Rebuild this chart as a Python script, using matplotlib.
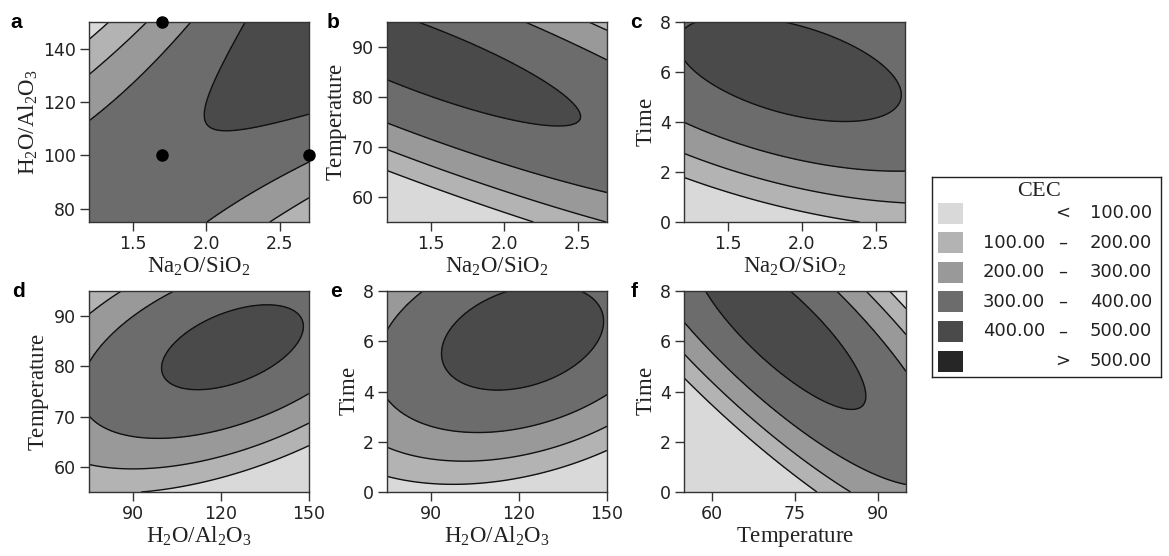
import numpy as np
import matplotlib
matplotlib.use('Agg')
import matplotlib.pyplot as plt
from matplotlib.patches import Rectangle

plt.rcParams['font.family'] = ['DejaVu Sans']
plt.rcParams['mathtext.fontset'] = 'custom'
plt.rcParams['mathtext.rm'] = 'Liberation Serif'
plt.rcParams['mathtext.it'] = 'Liberation Serif:italic'

W, H = 1169, 556

LEVELS = [100, 200, 300, 400, 500]
FILLS = ['#d9d9d9', '#b3b3b3', '#999999', '#6c6c6c', '#4a4a4a', '#262626']

LEGEND_LEFT = ['', '100.00', '200.00', '300.00', '400.00', '']
LEGEND_SIGN = ['<', '\u2013', '\u2013', '\u2013', '\u2013', '>']
LEGEND_RIGHT = ['100.00', '200.00', '300.00', '400.00', '500.00', '500.00']

# contour crossings: (x, y, CEC level)
a_pts = [(1.352, 150, 100), (1.2, 142.6, 100),
         (1.545, 150, 200), (1.364, 139.5, 200), (1.2, 130.1, 200),
         (1.932, 150, 300), (1.568, 128.2, 300), (1.2, 113.8, 300),
         (2.261, 150, 400), (2.068, 129.5, 400), (1.989, 114.4, 400),
         (2.068, 109.4, 400), (2.318, 110.1, 400), (2.7, 115.7, 400),
         (2.0, 75, 300), (2.409, 88.1, 300), (2.7, 96.9, 300),
         (2.432, 75, 200), (2.59, 81.9, 200), (2.7, 83.4, 200)]
b_pts = [(1.355, 95, 400), (1.627, 92.9, 400), (1.968, 88.9, 400), (2.264, 84.3, 400),
         (2.468, 78.9, 400), (2.491, 76.3, 400), (2.423, 74.0, 400), (2.195, 74.3, 400),
         (1.855, 76.6, 400), (1.514, 80.3, 400), (1.2, 83.9, 400),
         (2.173, 95, 300), (2.423, 91.6, 300), (2.7, 86.9, 300),
         (2.536, 95, 200), (2.7, 92.9, 200),
         (1.2, 74.3, 300), (1.514, 71.6, 300), (1.855, 69.0, 300), (2.195, 65.7, 300), (2.7, 61.0, 300),
         (1.2, 69.0, 200), (1.514, 66.3, 200), (1.855, 63.0, 200), (2.195, 59.7, 200), (2.627, 55, 200),
         (1.2, 64.5, 100), (1.514, 62.4, 100), (1.855, 59.0, 100), (2.127, 55, 100)]
c_pts = [(1.286, 8, 400), (1.2, 7.75, 400), (1.852, 8, 400), (2.191, 7.48, 400),
         (2.462, 6.68, 400), (2.643, 5.21, 400), (2.621, 4.55, 400), (2.417, 4.01, 400),
         (2.146, 3.88, 400), (1.852, 4.28, 400), (1.512, 5.35, 400), (1.2, 6.35, 400),
         (1.2, 3.88, 300), (1.512, 3.35, 300), (1.852, 2.81, 300), (2.191, 2.35, 300), (2.7, 2.04, 300),
         (1.2, 2.75, 200), (1.512, 2.08, 200), (1.852, 1.61, 200), (2.191, 1.21, 200), (2.7, 0.75, 200),
         (1.2, 1.81, 100), (1.512, 1.08, 100), (1.852, 0.61, 100), (2.35, 0, 100)]
d_pts = [(87.3, 95, 200), (75, 90.9, 200),
         (104.3, 95, 300), (90.7, 90.9, 300), (80.5, 84.9, 300), (75, 79.9, 300),
         (100.3, 80.3, 400), (107.7, 86.9, 400), (124.8, 91.2, 400), (137.3, 92.2, 400),
         (148.1, 87.6, 400), (144.1, 82.9, 400), (124.8, 77.0, 400), (111.1, 75.3, 400), (103.2, 77.3, 400),
         (75, 70.0, 300), (85, 67.0, 300), (102, 65.3, 300), (124.8, 67.7, 300), (136.1, 69.7, 300), (150, 74.6, 300),
         (75, 60.4, 200), (90.7, 59.7, 200), (107.7, 60.4, 200), (130.5, 63.7, 200), (150, 69.0, 200),
         (94.1, 55, 100), (113.4, 57.1, 100), (136.1, 61.0, 100), (150, 64.4, 100)]
e_pts = [(87.3, 8, 300), (80.5, 7.31, 300), (75, 6.51, 300),
         (114.5, 8, 400), (140.7, 8, 400), (147.5, 7.44, 400), (148.6, 6.91, 400), (144.1, 5.59, 400),
         (130.5, 4.52, 400), (107.7, 4.06, 400), (96.4, 4.39, 400), (93.5, 5.32, 400), (96.4, 6.25, 400), (105.5, 7.31, 400),
         (75, 3.73, 300), (85, 2.93, 300), (102, 2.40, 300), (119.1, 2.53, 300), (136.1, 3.07, 300), (150, 3.79, 300),
         (75, 1.87, 200), (85, 1.47, 200), (102, 1.27, 200), (124.8, 1.61, 200), (150, 2.67, 200),
         (75, 0.61, 100), (85, 0.35, 100), (102, 0.28, 100), (124.8, 0.68, 100), (150, 1.61, 100)]
f_pts = [(59.7, 8, 400), (74.1, 8, 400), (81.3, 6.65, 400), (86.7, 5.19, 400), (88.2, 3.86, 400),
         (86.1, 3.06, 400), (81.3, 3.33, 400), (72.3, 4.66, 400), (64.5, 6.12, 400), (60.9, 7.18, 400),
         (82.5, 8, 300), (95, 4.86, 300),
         (87.3, 8, 200), (95, 6.18, 200),
         (91.5, 8, 100), (95, 7.24, 100),
         (55, 6.91, 300), (63.3, 5.32, 300), (72.3, 3.86, 300), (81.3, 2.53, 300), (90.3, 1.21, 300), (94.6, 0.35, 300),
         (55, 5.45, 200), (68.1, 3.0, 200), (83.7, 0, 200),
         (55, 4.26, 100), (65.1, 2.6, 100), (77.4, 0, 100)]

# design points in panel a
a_dots_x = [1.7, 1.7, 2.7]
a_dots_y = [150, 100, 100]

NA = r'$\mathrm{Na_2O/SiO_2}$'
HA = r'$\mathrm{H_2O/Al_2O_3}$'
TEMP = r'$\mathrm{Temperature}$'
TIME = r'$\mathrm{Time}$'

fig = plt.figure(figsize=(W / 100, H / 100), dpi=100)


def surface(pts, xlim, ylim):
    # second-order response surface through the read crossings
    p = np.array(pts, dtype=float)
    xm, xh = (xlim[0] + xlim[1]) / 2, (xlim[1] - xlim[0]) / 2
    ym, yh = (ylim[0] + ylim[1]) / 2, (ylim[1] - ylim[0]) / 2
    u = (p[:, 0] - xm) / xh
    v = (p[:, 1] - ym) / yh
    w = np.where(p[:, 2] == 400, 2.0, 1.0)
    A = np.column_stack([np.ones_like(u), u, v, u * u, v * v, u * v])
    coef = np.linalg.lstsq(A * w[:, None], p[:, 2] * w, rcond=None)[0]
    gx = np.linspace(xlim[0], xlim[1], 300)
    gy = np.linspace(ylim[0], ylim[1], 300)
    GX, GY = np.meshgrid(gx, gy)
    U = (GX - xm) / xh
    V = (GY - ym) / yh
    Z = coef[0] + coef[1] * U + coef[2] * V + coef[3] * U * U + coef[4] * V * V + coef[5] * U * V
    return GX, GY, Z


def panel(left, top, width, height, pts, xlim, ylim, xticks, yticks, xlabel, ylabel, letter, lx):
    ax = fig.add_axes([left / W, 1 - (top + height) / H, width / W, height / H])
    GX, GY, Z = surface(pts, xlim, ylim)
    ax.contourf(GX, GY, Z, levels=[-1e6] + LEVELS + [1e6], colors=FILLS)
    ax.contour(GX, GY, Z, levels=LEVELS, colors='#111111', linewidths=1.0)
    ax.set_xlim(xlim)
    ax.set_ylim(ylim)
    ax.set_xticks(xticks)
    ax.set_yticks(yticks)
    ax.tick_params(direction='out', length=6.5, width=1, colors='#333333',
                   labelcolor='#222222', labelsize=12.5, pad=3)
    for s in ax.spines.values():
        s.set_color('#333333')
        s.set_linewidth(1)
    ax.set_xlabel(xlabel, fontsize=16.5, labelpad=1, color='#222222')
    ax.set_ylabel(ylabel, fontsize=16.5, labelpad=2, color='#222222')
    fig.text(lx / W, 1 - (top + 6) / H, letter, fontsize=15, fontweight='bold',
             family='Liberation Sans', va='baseline', ha='left')
    return ax


ax = panel(89, 22, 220, 200, a_pts, (1.2, 2.7), (75, 150), [1.5, 2.0, 2.5], [80, 100, 120, 140], NA, HA, 'a', 10)
ax.plot(a_dots_x, a_dots_y, 'o', color='black', markersize=8, clip_on=False, zorder=5)
panel(387, 22, 220, 200, b_pts, (1.2, 2.7), (55, 95), [1.5, 2.0, 2.5], [60, 70, 80, 90], NA, TEMP, 'b', 327)
panel(684, 22, 221, 200, c_pts, (1.2, 2.7), (0, 8), [1.5, 2.0, 2.5], [0, 2, 4, 6, 8], NA, TIME, 'c', 630)
panel(89, 291, 220, 201, d_pts, (75, 150), (55, 95), [90, 120, 150], [60, 70, 80, 90], HA, TEMP, 'd', 12)
panel(387, 291, 220, 201, e_pts, (75, 150), (0, 8), [90, 120, 150], [0, 2, 4, 6, 8], HA, TIME, 'e', 330)
panel(684, 291, 222, 201, f_pts, (55, 95), (0, 8), [60, 75, 90], [0, 2, 4, 6, 8], TEMP, TIME, 'f', 631)

# legend box
lw, lh = 229, 200
lg = fig.add_axes([932 / W, 1 - 377 / H, lw / W, lh / H])
lg.set_xlim(0, lw)
lg.set_ylim(lh, 0)
lg.set_xticks([])
lg.set_yticks([])
for s in lg.spines.values():
    s.set_color('#222222')
    s.set_linewidth(1)
lg.text(107, 13, r'$\mathrm{CEC}$', fontsize=16, ha='center', va='center', color='#222222')
for i, col in enumerate(FILLS):
    yc = 36 + i * 29.6
    lg.add_patch(Rectangle((6, yc - 10.5), 25, 21, facecolor=col, edgecolor='none'))
    lg.text(113, yc, LEGEND_LEFT[i], fontsize=13, ha='right', va='center', color='#222222')
    lg.text(131, yc, LEGEND_SIGN[i], fontsize=13, ha='center', va='center', color='#222222')
    lg.text(158, yc, LEGEND_RIGHT[i], fontsize=13, ha='left', va='center', color='#222222')

fig.savefig('out.png', dpi=100)
